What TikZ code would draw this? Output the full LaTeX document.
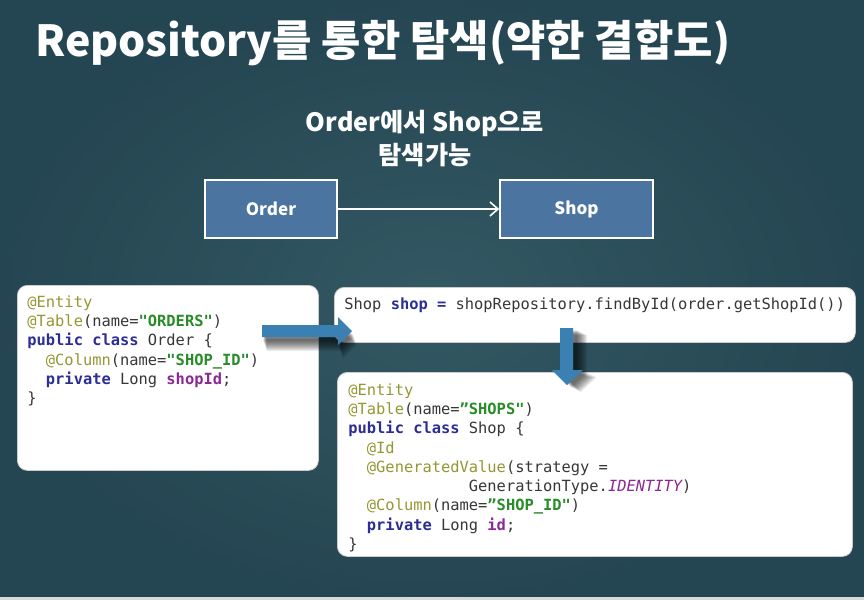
\documentclass[tikz,border=0pt]{standalone}
\usepackage{fontspec}
\setmainfont{Noto Sans CJK KR}
\newfontfamily\codefont{DejaVu Sans Mono}
\usetikzlibrary{positioning,calc,arrows.meta}

\definecolor{slate}{RGB}{44,82,94}
\definecolor{slatedark}{RGB}{32,62,74}
\definecolor{slatelight}{RGB}{56,94,104}
\definecolor{boxblue}{RGB}{76,116,160}
\definecolor{arrowblue}{RGB}{58,128,178}
\definecolor{cdann}{RGB}{150,150,50}
\definecolor{cdkey}{RGB}{45,45,150}
\definecolor{cdstr}{RGB}{40,140,40}
\definecolor{cdfld}{RGB}{140,40,150}
\definecolor{cdplain}{RGB}{55,55,55}

\newcommand{\cdAnn}[1]{\textcolor{cdann}{#1}}
\newcommand{\cdKey}[1]{\textcolor{cdkey}{\bfseries #1}}
\newcommand{\cdStr}[1]{\textcolor{cdstr}{\bfseries #1}}
\newcommand{\cdFld}[1]{\textcolor{cdfld}{\bfseries #1}}
\newcommand{\cdTab}[1]{\hphantom{#1}}

\tikzset{
  titletext/.style={text=white, font=\bfseries\fontsize{21.4}{26}\selectfont, inner sep=0pt},
  subtext/.style={text=white, font=\bfseries\fontsize{12.6}{16.5}\selectfont, align=center, inner sep=0pt},
  entity/.style={draw=white, line width=0.8pt, fill=boxblue, text=white,
    font=\bfseries\fontsize{8.5}{10}\selectfont, minimum height=29pt},
  link/.style={draw=white, line width=0.8pt, -{Straight Barb[length=4pt,width=7pt]}},
  codebox/.style={fill=white, draw=gray!40, rounded corners=5pt, anchor=north west, inner sep=0pt},
  codetext/.style={anchor=north west, inner sep=0pt, align=left, text=cdplain,
    font=\codefont\fontsize{7.7}{9.65}\selectfont},
  blockarrow/.style={fill=arrowblue},
  blockshadow/.style={fill=black, opacity=0.07}
}

\begin{document}
\begin{tikzpicture}[x=0.5pt, y=-0.5pt]
  % background
  \fill[slate] (0,0) rectangle (864,600);
  \shade[inner color=slatelight, outer color=slatedark, opacity=0.6] (0,0) rectangle (864,600);
  \fill[gray!30] (0,597) rectangle (864,600);
  \useasboundingbox (0,0) rectangle (864,600);

  % title
  \node[titletext, anchor=base west] (title) at (35,56) {Repository를 통한 탐색(약한 결합도)};
  \node[subtext] (sub) at (425,139) {Order에서 Shop으로\\탐색가능};

  % Order -> Shop
  \node[entity, minimum width=66pt] (order) at (271,209) {Order};
  \node[entity, minimum width=76.5pt] (shop) at (576.5,209) {Shop};
  \draw[link] (order) -- (shop);

  % code boxes
  \node[codebox, minimum width=150.5pt, minimum height=92.5pt] (orderbox) at (17,285) {};
  \node[codebox, minimum width=260.5pt, minimum height=27.5pt] (callbox) at (334,287) {};
  \node[codebox, minimum width=257.5pt, minimum height=92pt] (shopbox) at (337,372) {};

  \node[codetext] (ordercode) at ($(orderbox.north west)+(10,10)$) {%
    \cdAnn{@Entity}\\
    \cdAnn{@Table}(name=\cdStr{"ORDERS"})\\
    \cdKey{public class} Order \{\\
    \cdTab{xx}\cdAnn{@Column}(name=\cdStr{"SHOP\_ID"})\\
    \cdTab{xx}\cdKey{private} Long \cdFld{shopId};\\
    \}};
  \node[codetext] (callcode) at ($(callbox.north west)+(10,10)$) {%
    Shop \cdKey{shop =} shopRepository.findById(order.getShopId())};
  \node[codetext] (shopcode) at ($(shopbox.north west)+(11,11)$) {%
    \cdAnn{@Entity}\\
    \cdAnn{@Table}(name=\cdStr{”SHOPS"})\\
    \cdKey{public class} Shop \{\\
    \cdTab{xx}\cdAnn{@Id}\\
    \cdTab{xx}\cdAnn{@GeneratedValue}(strategy =\\
    \cdTab{xxxxxxxxxxxxx}GenerationType.\textcolor{cdfld}{\itshape IDENTITY})\\
    \cdTab{xx}\cdAnn{@Column}(name=\cdStr{”SHOP\_ID"})\\
    \cdTab{xx}\cdKey{private} Long \cdFld{id};\\
    \}};

  % block arrows with soft shadows
  \foreach \d in {4,5,...,14}
    \fill[blockshadow] (262+\d/3,325+\d) -- (338+\d/3,325+\d) -- (338+\d/3,317+\d)
      -- (352+\d/3,331+\d) -- (338+\d/3,345+\d) -- (338+\d/3,337+\d) -- (262+\d/3,337+\d) -- cycle;
  \fill[blockarrow] (262,325) -- (338,325) -- (338,317) -- (352,331)
    -- (338,345) -- (338,337) -- (262,337) -- cycle;

  \foreach \d in {4,5,...,14}
    \fill[blockshadow] (560+\d,328+\d/2) -- (573+\d,328+\d/2) -- (573+\d,370+\d/2)
      -- (583+\d,370+\d/2) -- (567+\d,385+\d/2) -- (552+\d,370+\d/2) -- (560+\d,370+\d/2) -- cycle;
  \fill[blockarrow] (560,328) -- (573,328) -- (573,370) -- (583,370)
    -- (567,385) -- (552,370) -- (560,370) -- cycle;
\end{tikzpicture}
\end{document}
